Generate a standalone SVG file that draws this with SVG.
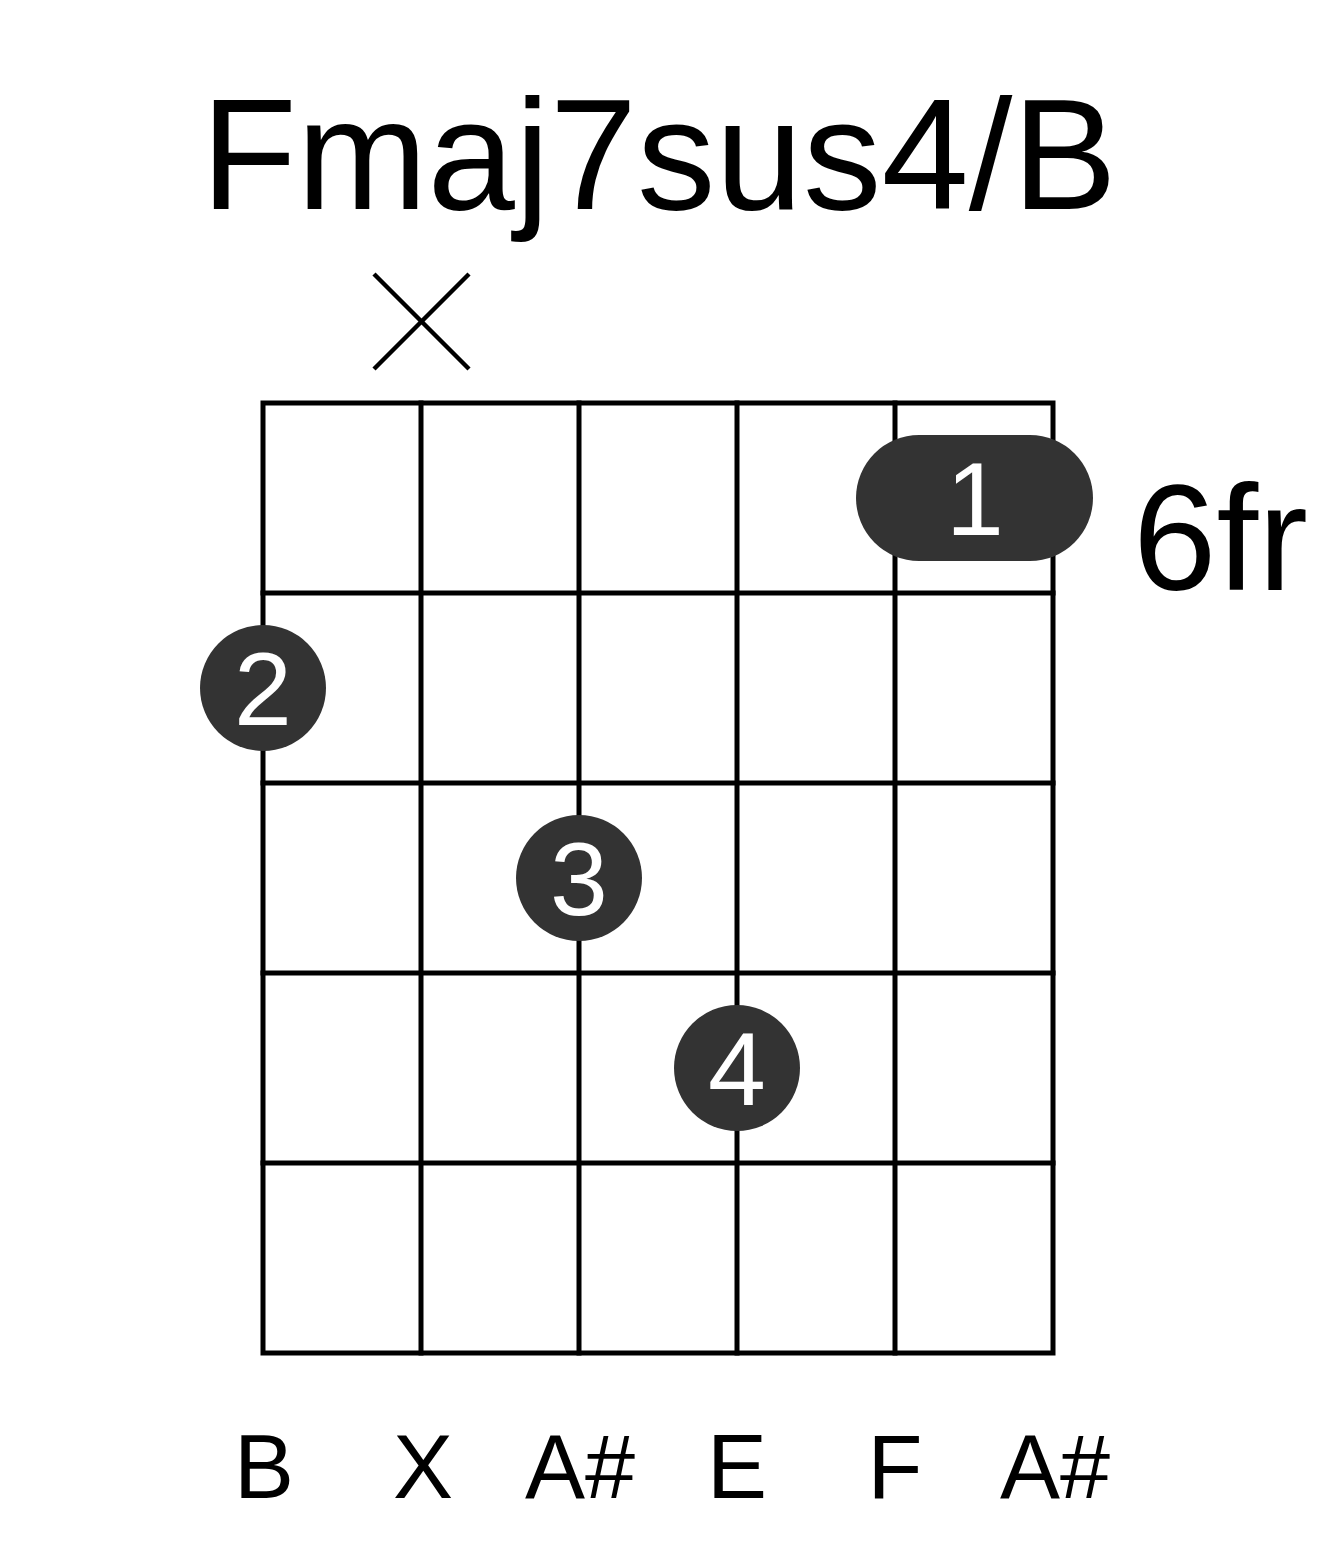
<svg xmlns="http://www.w3.org/2000/svg" width="1317" height="1551" viewBox="0 0 1317 1551">
  <style>
    .ln { stroke: #000; stroke-width: 5; fill: none; stroke-linecap: square; }
    .mute { stroke: #000; stroke-width: 4.5; stroke-linecap: butt; }
    .dot { fill: #333333; }
    .fnum { font-family: "Liberation Sans", Arial, sans-serif; font-size: 104px; fill: #ffffff; text-anchor: middle; }
    .lbl { font-family: "Liberation Sans", Arial, sans-serif; font-size: 90px; fill: #000; text-anchor: middle; }
    .title { font-family: "Liberation Sans", Arial, sans-serif; font-size: 157px; fill: #000; text-anchor: middle; }
    .fr { font-family: "Liberation Sans", Arial, sans-serif; font-size: 150px; fill: #000; }
  </style>
  <rect width="1317" height="1551" fill="#ffffff"/>
  <g id="title"><text class="title" x="659" y="209">Fmaj7sus4/B</text></g>
  <g id="grid">
    <rect class="ln" x="263" y="403" width="790" height="950"/>
    <line class="ln" x1="421" y1="403" x2="421" y2="1353"/>
    <line class="ln" x1="579" y1="403" x2="579" y2="1353"/>
    <line class="ln" x1="737" y1="403" x2="737" y2="1353"/>
    <line class="ln" x1="895" y1="403" x2="895" y2="1353"/>
    <line class="ln" x1="263" y1="593" x2="1053" y2="593"/>
    <line class="ln" x1="263" y1="783" x2="1053" y2="783"/>
    <line class="ln" x1="263" y1="973" x2="1053" y2="973"/>
    <line class="ln" x1="263" y1="1163" x2="1053" y2="1163"/>
  </g>
  <g id="connectors"></g>
  <g id="mute-x">
    <line class="mute" x1="374" y1="274" x2="469" y2="369"/>
    <line class="mute" x1="469" y1="274" x2="374" y2="369"/>
  </g>
  <g id="finger-1">
    <rect class="dot" x="856" y="435" width="237" height="126" rx="63" ry="63"/>
    <text class="fnum" x="975" y="535">1</text>
  </g>
  <g id="finger-2">
    <circle class="dot" cx="263" cy="688" r="63"/>
    <text class="fnum" x="263" y="725">2</text>
  </g>
  <g id="finger-3">
    <circle class="dot" cx="579" cy="878" r="63"/>
    <text class="fnum" x="579" y="915">3</text>
  </g>
  <g id="finger-4">
    <circle class="dot" cx="737" cy="1068" r="63"/>
    <text class="fnum" x="737" y="1105">4</text>
  </g>
  <g id="fret-label"><text class="fr" x="1133" y="590">6fr</text></g>
  <g id="string-labels">
    <text class="lbl" x="264" y="1498">B</text>
    <text class="lbl" x="423" y="1498">X</text>
    <text class="lbl" x="580" y="1498">A#</text>
    <text class="lbl" x="737" y="1498">E</text>
    <text class="lbl" x="895" y="1498">F</text>
    <text class="lbl" x="1055" y="1498">A#</text>
  </g>
</svg>
